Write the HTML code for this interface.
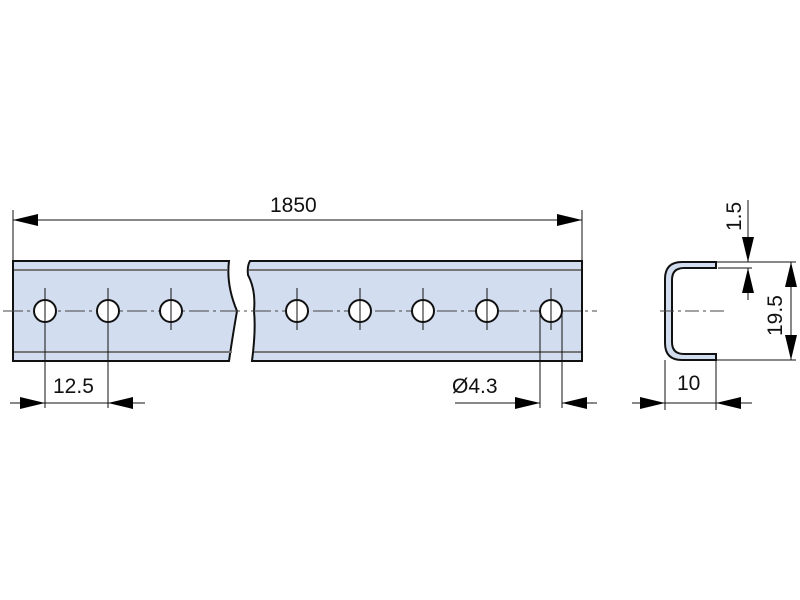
<!DOCTYPE html>
<html><head><style>body{margin:0;background:#fff}svg{display:block}text{font-family:"Liberation Sans",sans-serif;font-size:21px;fill:#111}</style></head><body>
<svg width="800" height="600" viewBox="0 0 800 600">
<defs>
<marker id="a" viewBox="0 0 25 12" refX="25" refY="6" markerWidth="25" markerHeight="12" markerUnits="userSpaceOnUse" orient="auto"><path d="M0,0L25,6L0,12z" fill="#000"/></marker>
</defs>
<path d="M13,261H229Q226,285 237,311Q232,340 229,361H13Z" fill="#d3ddf0" stroke="#111" stroke-width="2"/>
<path d="M250,261H582V361H252Q256,330 254,311Q256,290 248,275Q247,266 250,261Z" fill="#d3ddf0" stroke="#111" stroke-width="2"/>
<g stroke="#777" stroke-width="2"><line x1="14" y1="270" x2="227" y2="270"/><line x1="14" y1="352" x2="232" y2="352"/><line x1="249" y1="270" x2="581" y2="270"/><line x1="254" y1="352" x2="581" y2="352"/></g>
<line x1="3" y1="311" x2="597" y2="311" stroke="#444" stroke-width="1" stroke-dasharray="20,4,3,4"/>
<g fill="#fff" stroke="#111" stroke-width="2">
<circle cx="45" cy="311" r="11"/><circle cx="108" cy="311" r="11"/><circle cx="171" cy="311" r="11"/><circle cx="297" cy="311" r="11"/><circle cx="360" cy="311" r="11"/><circle cx="423" cy="311" r="11"/><circle cx="487" cy="311" r="11"/><circle cx="551" cy="311" r="11"/>
</g>
<g stroke="#111" stroke-width="1">
<line x1="171" y1="288" x2="171" y2="330"/><line x1="297" y1="288" x2="297" y2="330"/><line x1="360" y1="288" x2="360" y2="330"/><line x1="423" y1="288" x2="423" y2="330"/><line x1="487" y1="288" x2="487" y2="330"/><line x1="551" y1="288" x2="551" y2="330"/>
<line x1="45" y1="288" x2="45" y2="408"/><line x1="108" y1="288" x2="108" y2="408"/>
<line x1="540" y1="311" x2="540" y2="408"/><line x1="562" y1="311" x2="562" y2="408"/>
<line x1="13" y1="210" x2="13" y2="261"/><line x1="582" y1="210" x2="582" y2="261"/>
<line x1="10" y1="403" x2="45" y2="403" marker-end="url(#a)"/><line x1="145" y1="403" x2="108" y2="403" marker-end="url(#a)"/><line x1="45" y1="403" x2="108" y2="403"/>
<line x1="455" y1="403" x2="540" y2="403" marker-end="url(#a)"/><line x1="597" y1="403" x2="562" y2="403" marker-end="url(#a)"/>
<line x1="297" y1="220" x2="13" y2="220" marker-end="url(#a)"/>
<line x1="297" y1="220" x2="582" y2="220" marker-end="url(#a)"/>
</g>
<text x="270" y="212">1850</text>
<text x="53" y="393">12.5</text>
<text x="452" y="393">Ø4.3</text>
<path d="M716,262H682Q665,262 665,279V343Q665,360 682,360H716V354H684Q672,354 672,342V280Q672,268 684,268H716Z" fill="#d3ddf0" stroke="#111" stroke-width="2"/>
<line x1="660" y1="311" x2="726" y2="311" stroke="#444" stroke-dasharray="14,4,3,4"/>
<g stroke="#111" stroke-width="1">
<line x1="716" y1="262" x2="796" y2="262"/><line x1="718" y1="268" x2="752" y2="268"/><line x1="716" y1="360" x2="796" y2="360"/>
<line x1="748" y1="200" x2="748" y2="262" marker-end="url(#a)"/><line x1="748" y1="300" x2="748" y2="268" marker-end="url(#a)"/>
<line x1="791" y1="311" x2="791" y2="262" marker-end="url(#a)"/><line x1="791" y1="311" x2="791" y2="360" marker-end="url(#a)"/>
<line x1="665" y1="360" x2="665" y2="410"/><line x1="716" y1="360" x2="716" y2="410"/>
<line x1="632" y1="403" x2="665" y2="403" marker-end="url(#a)"/><line x1="752" y1="403" x2="716" y2="403" marker-end="url(#a)"/><line x1="665" y1="403" x2="716" y2="403"/>
</g>
<text x="677" y="390">10</text>
<text transform="translate(741,231) rotate(-90)">1.5</text>
<text transform="translate(782,336) rotate(-90)">19.5</text>
</svg>
</body></html>
